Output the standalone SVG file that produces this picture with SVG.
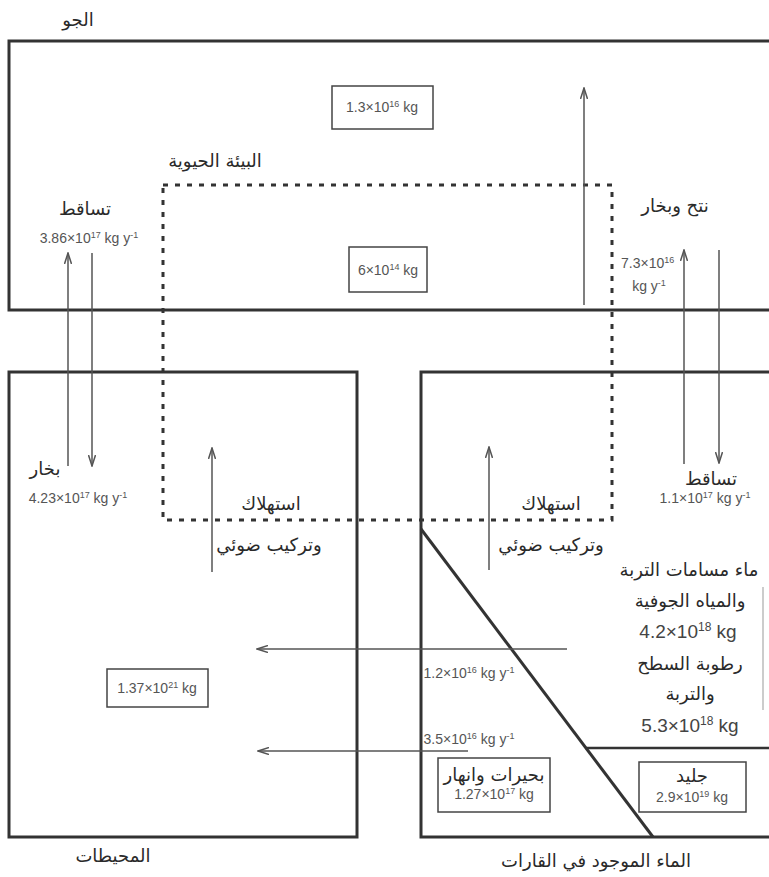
<svg xmlns="http://www.w3.org/2000/svg" width="769" height="877" viewBox="0 0 769 877">
<style>
.box{fill:none;stroke:#333;stroke-width:3}
.sbox{fill:#fff;stroke:#444;stroke-width:1.5}
.dot{fill:none;stroke:#333;stroke-width:3;stroke-dasharray:5 7}
.arr{stroke:#555;stroke-width:1.5;fill:none;marker-end:url(#ah)}
.ln{stroke:#555;stroke-width:1.5;fill:none}
.diag{stroke:#333;stroke-width:3;fill:none}
.ar{font-family:"DejaVu Sans",sans-serif;font-size:18px;fill:#2a2a2a;text-anchor:middle}
.num{font-family:"Liberation Sans",Arial,sans-serif;font-size:14px;fill:#555;text-anchor:middle}
.big{font-family:"Liberation Sans",Arial,sans-serif;font-size:19px;fill:#444;text-anchor:middle}
</style>
<defs>
<marker id="ah" viewBox="0 0 12 8" refX="11" refY="4" markerWidth="12" markerHeight="8" markerUnits="userSpaceOnUse" orient="auto">
<path d="M0,0.5 L11,4 L0,7.5" fill="none" stroke="#555" stroke-width="1.5"/>
</marker>
</defs>
<rect width="769" height="877" fill="#fff"/>

<g id="atmosphere">
<rect class="box" x="9" y="41" width="775" height="269"/>
<text class="ar" x="78" y="26">الجو</text>
<rect class="sbox" x="332" y="86" width="101" height="43"/>
<text class="num" x="382" y="112">1.3×10<tspan dy="-5" font-size="9">16</tspan><tspan dy="5"> kg</tspan></text>
</g>

<g id="biosphere">
<rect class="dot" x="163" y="185" width="449" height="335"/>
<text class="ar" x="215" y="167">البيئة الحيوية</text>
<rect class="sbox" x="349" y="247" width="78" height="45"/>
<text class="num" x="388" y="275">6×10<tspan dy="-5" font-size="9">14</tspan><tspan dy="5"> kg</tspan></text>
</g>

<g id="oceans">
<rect class="box" x="9" y="372" width="348" height="465"/>
<rect class="sbox" x="107" y="669" width="101" height="38"/>
<text class="num" x="157" y="693">1.37×10<tspan dy="-5" font-size="9">21</tspan><tspan dy="5"> kg</tspan></text>
<text class="ar" x="113" y="862">المحيطات</text>
</g>

<g id="continents">
<rect class="box" x="421" y="372" width="360" height="465"/>
<line class="ln" x1="585" y1="748" x2="769" y2="748" style="stroke:#333;stroke-width:2.5"/>
<line class="diag" x1="421" y1="529" x2="653" y2="837"/>
<line class="ln" x1="763" y1="587" x2="763" y2="710" style="stroke:#999;stroke-width:1"/>
<text class="ar" x="689" y="576">ماء مسامات التربة</text>
<text class="ar" x="690" y="607">والمياه الجوفية</text>
<text class="big" x="688" y="638">4.2×10<tspan dy="-7" font-size="12">18</tspan><tspan dy="7"> kg</tspan></text>
<text class="ar" x="690" y="670">رطوبة السطح</text>
<text class="ar" x="690" y="700">والتربة</text>
<text class="big" x="690" y="732">5.3×10<tspan dy="-7" font-size="12">18</tspan><tspan dy="7"> kg</tspan></text>
<text class="ar" x="596" y="867">الماء الموجود في القارات</text>
</g>

<g id="lakes">
<rect class="sbox" x="438" y="758" width="112" height="54"/>
<text class="ar" x="494" y="781">بحيرات وانهار</text>
<text class="num" x="494" y="799">1.27×10<tspan dy="-5" font-size="9">17</tspan><tspan dy="5"> kg</tspan></text>
</g>

<g id="ice">
<rect class="sbox" x="639" y="762" width="107" height="50"/>
<text class="ar" x="692" y="782">جليد</text>
<text class="num" x="692" y="802">2.9×10<tspan dy="-5" font-size="9">19</tspan><tspan dy="5"> kg</tspan></text>
</g>

<g id="connectors">
<line class="arr" x1="68" y1="466" x2="68" y2="253"/>
<line class="arr" x1="92" y1="253" x2="92" y2="466"/>
<line class="arr" x1="684" y1="464" x2="684" y2="250"/>
<line class="arr" x1="719" y1="250" x2="719" y2="463"/>
<line class="arr" x1="584" y1="305" x2="584" y2="88"/>
<line class="arr" x1="212" y1="572" x2="212" y2="448"/>
<line class="arr" x1="489" y1="570" x2="489" y2="447"/>
<line class="arr" x1="567" y1="649" x2="257" y2="649"/>
<line class="arr" x1="468" y1="751" x2="258" y2="751"/>
</g>

<g id="labels">
<text class="ar" x="85" y="215">تساقط</text>
<text class="num" x="89" y="243">3.86×10<tspan dy="-5" font-size="9">17</tspan><tspan dy="5"> kg y</tspan><tspan dy="-5" font-size="9">-1</tspan></text>
<text class="ar" x="675" y="212">نتح وبخار</text>
<text class="num" x="621" y="268" style="text-anchor:start">7.3×10<tspan dy="-5" font-size="9">16</tspan></text>
<text class="num" x="649" y="291">kg y<tspan dy="-5" font-size="9">-1</tspan></text>
<text class="ar" x="45" y="475">بخار</text>
<text class="num" x="78" y="503">4.23×10<tspan dy="-5" font-size="9">17</tspan><tspan dy="5"> kg y</tspan><tspan dy="-5" font-size="9">-1</tspan></text>
<text class="ar" x="271" y="510">استهلاك</text>
<text class="ar" x="269" y="551">وتركيب ضوئي</text>
<text class="ar" x="551" y="510">استهلاك</text>
<text class="ar" x="551" y="551">وتركيب ضوئي</text>
<text class="ar" x="711" y="485">تساقط</text>
<text class="num" x="705" y="503">1.1×10<tspan dy="-5" font-size="9">17</tspan><tspan dy="5"> kg y</tspan><tspan dy="-5" font-size="9">-1</tspan></text>
<text class="num" x="469" y="678">1.2×10<tspan dy="-5" font-size="9">16</tspan><tspan dy="5"> kg y</tspan><tspan dy="-5" font-size="9">-1</tspan></text>
<text class="num" x="469" y="744">3.5×10<tspan dy="-5" font-size="9">16</tspan><tspan dy="5"> kg y</tspan><tspan dy="-5" font-size="9">-1</tspan></text>
</g>
</svg>
